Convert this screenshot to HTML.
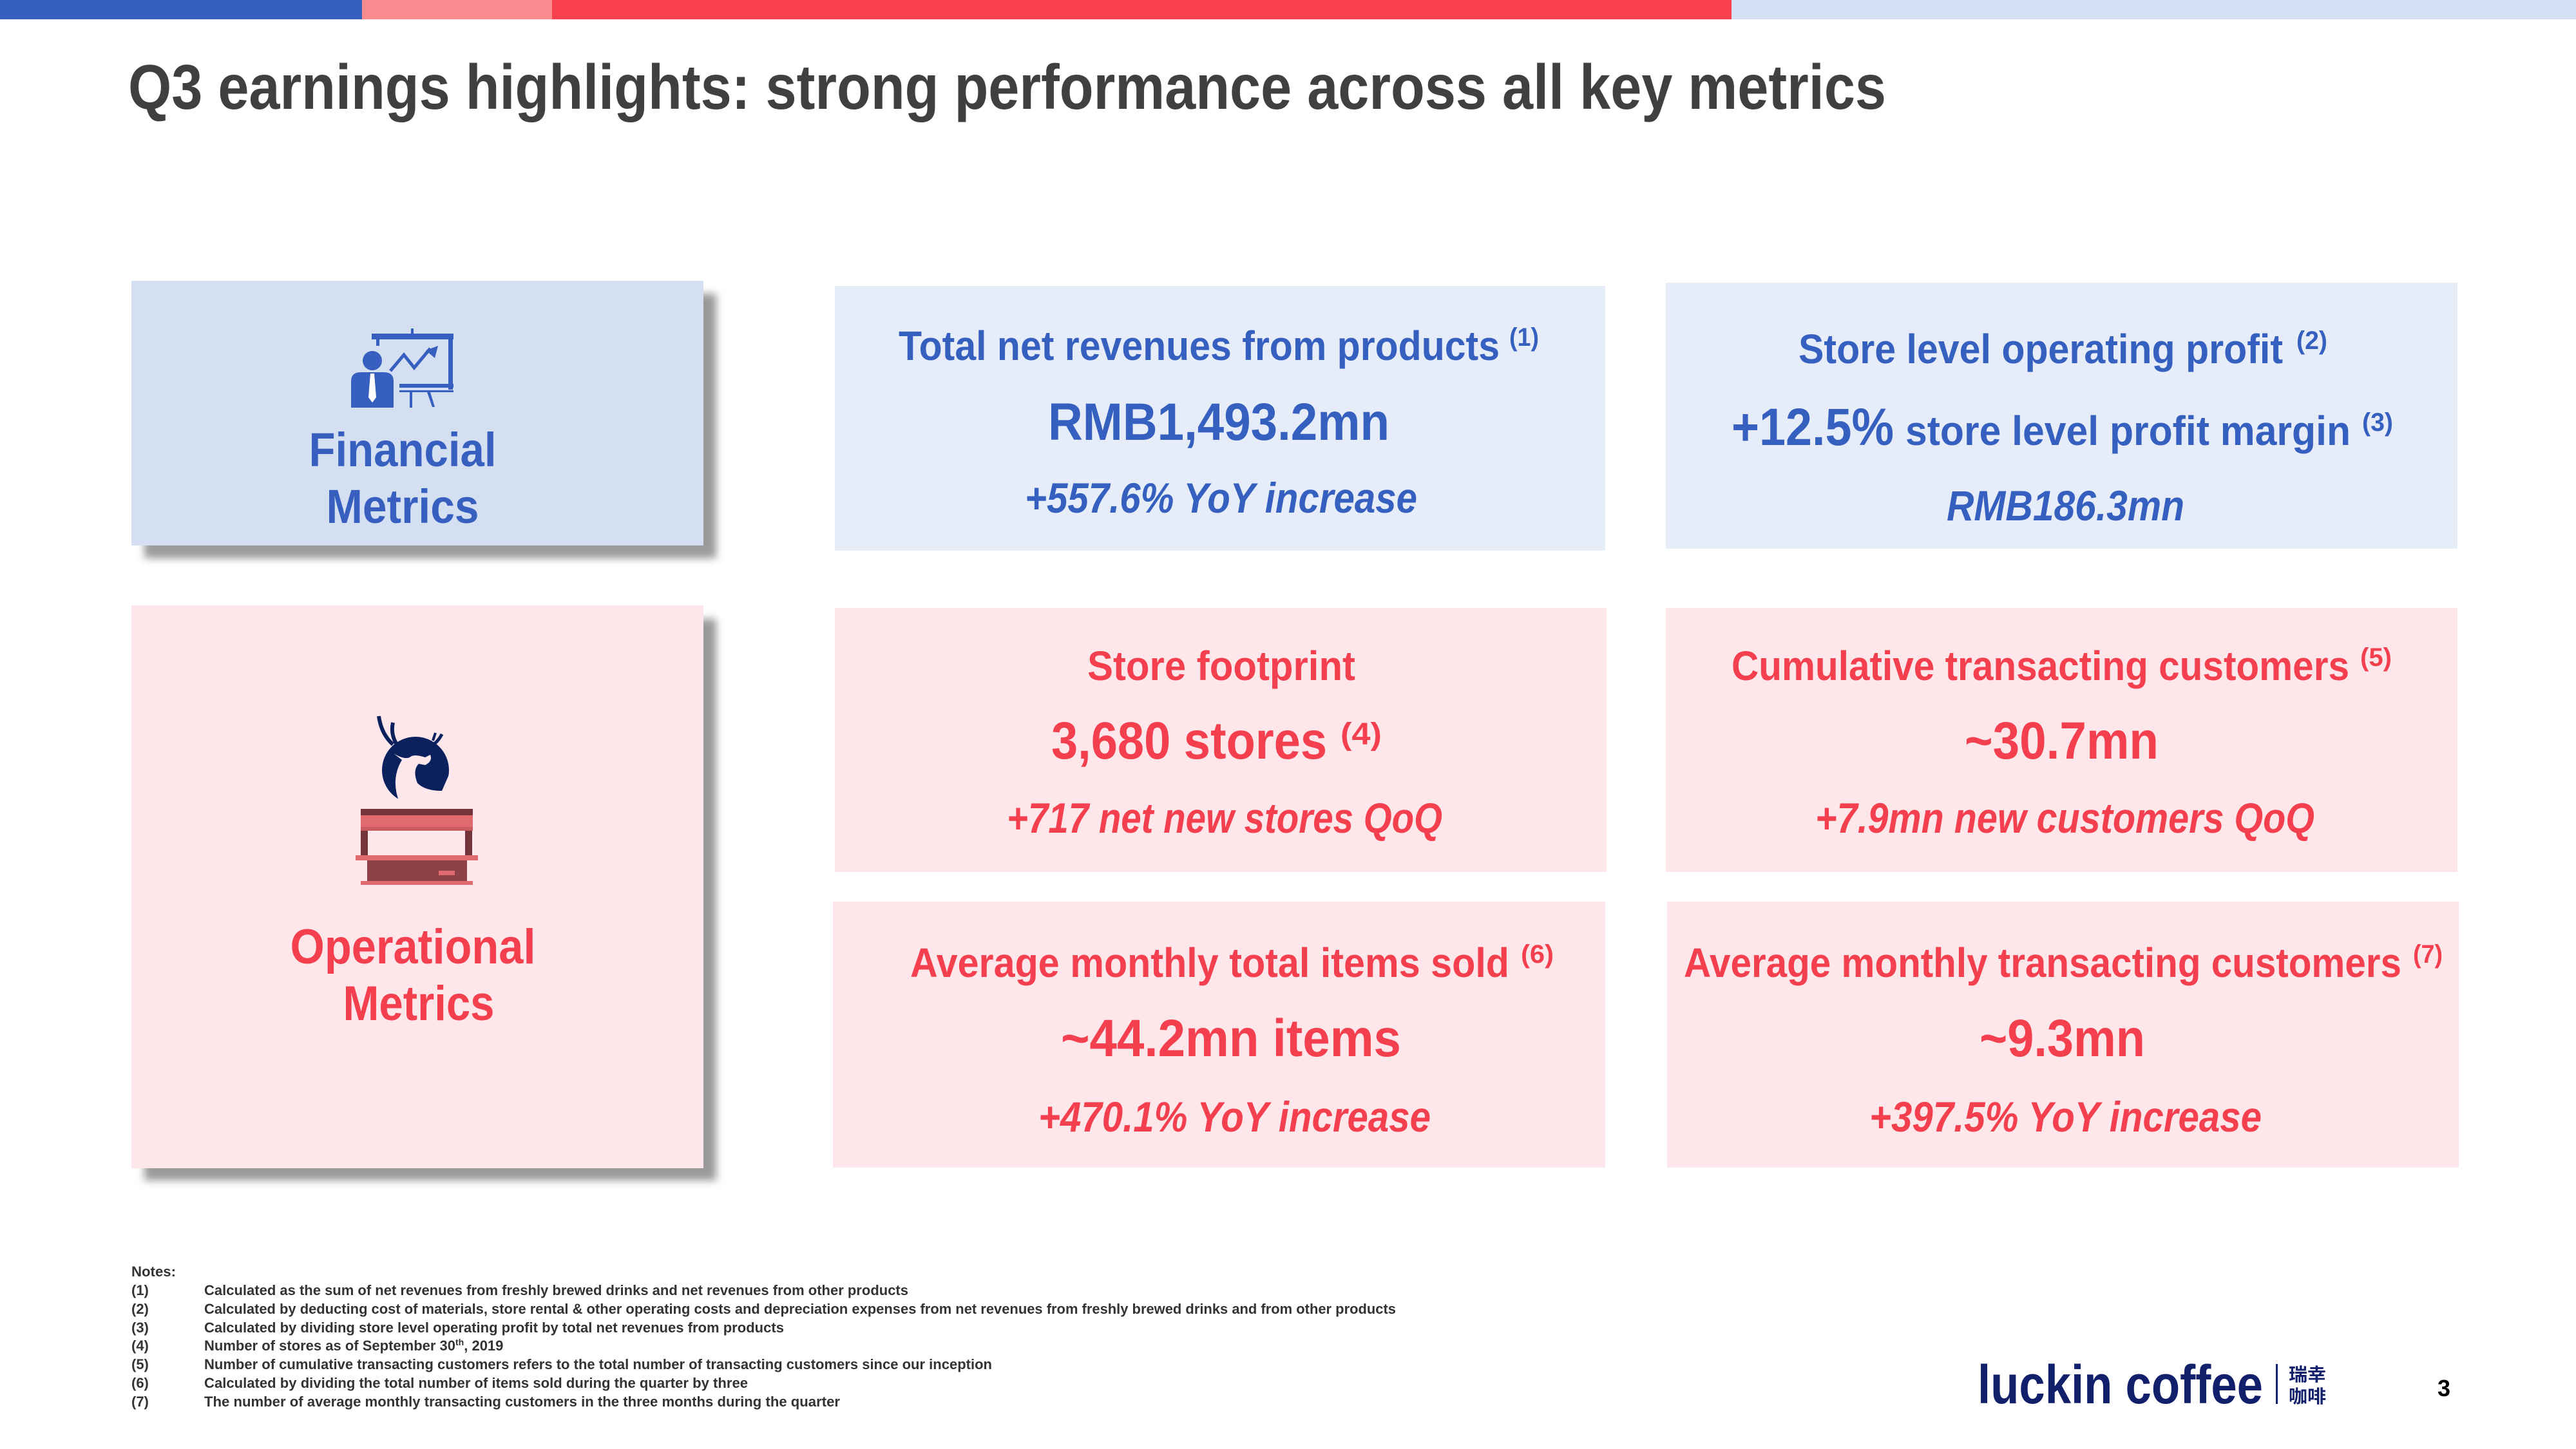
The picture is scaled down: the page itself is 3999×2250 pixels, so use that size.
<!DOCTYPE html>
<html><head><meta charset="utf-8"><style>
html,body{margin:0;padding:0;background:#fff;}
svg{display:block;}
text{font-family:"Liberation Sans Narrow","Liberation Sans",sans-serif;font-weight:bold;}
</style></head><body>
<svg width="3999" height="2250" viewBox="0 0 3999 2250" xmlns="http://www.w3.org/2000/svg">
<defs><filter id="blur" x="-10%" y="-10%" width="120%" height="120%"><feGaussianBlur stdDeviation="6"/></filter></defs>
<g>
<rect x="0" y="0" width="562" height="30" fill="#365fbf"/>
<rect x="562" y="0" width="295" height="30" fill="#fb8b8f"/>
<rect x="857" y="0" width="1831" height="30" fill="#f8404e"/>
<rect x="2688" y="0" width="1311" height="30" fill="#d6e0f4"/>
</g>
<text x="199" y="169" font-size="98" fill="#404040" textLength="2729" lengthAdjust="spacingAndGlyphs">Q3 earnings highlights: strong performance across all key metrics</text>

<!-- Financial box -->
<rect x="224" y="456" width="888" height="411" fill="#9a9a9a" filter="url(#blur)"/>
<rect x="204" y="436" width="888" height="411" fill="#d5dff2"/>
<g fill="#365fbf" stroke="#365fbf">
<rect x="577" y="518" width="127" height="9" stroke="none"/>
<rect x="638" y="510" width="4" height="10" stroke="none"/>
<rect x="584" y="525" width="5" height="12" stroke="none"/>
<rect x="696" y="525" width="7" height="80" stroke="none"/>
<rect x="620" y="596" width="84" height="6" stroke="none"/>
<rect x="620" y="606" width="84" height="3" stroke="none"/>
<rect x="636" y="609" width="4" height="24" stroke="none"/>
<polygon points="663,609 668,609 675,632 671,632" stroke="none"/>
<polyline points="606,576 627,551 643,571 668,541" fill="none" stroke-width="5"/>
<polygon points="680,537 661,544 675,556" stroke="none"/>
<circle cx="578" cy="560" r="15" stroke="none"/>
<path d="M545,633 L545,592 Q545,578 560,578 L596,578 Q611,578 611,592 L611,633 Z" stroke="none"/>
<polygon points="575,580 581,580 584,617 578,625 572,617" fill="#fff" stroke="none"/>
</g>
<text x="625" y="724" font-size="74" fill="#365fbf" text-anchor="middle" textLength="291" lengthAdjust="spacingAndGlyphs">Financial</text>
<text x="625" y="812" font-size="74" fill="#365fbf" text-anchor="middle" textLength="237" lengthAdjust="spacingAndGlyphs">Metrics</text>

<!-- Operational box -->
<rect x="224" y="961" width="888" height="872" fill="#9a9a9a" filter="url(#blur)"/>
<rect x="204" y="940" width="888" height="874" fill="#fde7ea"/>
<g>
<circle cx="645" cy="1196" r="52" fill="#0b215e"/>
<path d="M611,1170 Q628,1180 636,1176 Q642,1170 660,1176 L668,1172 Q672,1182 660,1188 L650,1186 Q640,1196 648,1216 Q660,1228 686,1228 L700,1196 L700,1260 L560,1260 L560,1240 Q600,1230 620,1246 Q606,1210 624,1180 Z" fill="#fde7ea"/>
<path d="M588,1112 Q592,1140 610,1156" fill="none" stroke="#0b215e" stroke-width="6"/>
<path d="M610,1122 Q606,1140 616,1156" fill="none" stroke="#0b215e" stroke-width="6"/>
<path d="M686,1140 Q680,1152 670,1158" fill="none" stroke="#0b215e" stroke-width="5"/>
<path d="M676,1138 L672,1150" fill="none" stroke="#0b215e" stroke-width="4"/>
</g>
<g>
<rect x="560" y="1256" width="174" height="10" fill="#74353a"/>
<rect x="560" y="1266" width="174" height="18" fill="#e06a6e"/>
<rect x="560" y="1284" width="174" height="6" fill="#c95a5f"/>
<rect x="560" y="1290" width="11" height="40" fill="#74353a"/>
<rect x="722" y="1290" width="11" height="40" fill="#74353a"/>
<rect x="552" y="1328" width="190" height="8" fill="#e06a6e"/>
<rect x="570" y="1336" width="155" height="34" fill="#8e4247"/>
<rect x="681" y="1352" width="25" height="7" fill="#e06a6e"/>
<rect x="560" y="1368" width="174" height="6" fill="#e06a6e"/>
</g>
<text x="641" y="1496" font-size="76" fill="#f43f4f" text-anchor="middle" textLength="381" lengthAdjust="spacingAndGlyphs">Operational</text>
<text x="650" y="1584" font-size="76" fill="#f43f4f" text-anchor="middle" textLength="235" lengthAdjust="spacingAndGlyphs">Metrics</text>

<!-- Cards -->
<rect x="1296" y="444" width="1196" height="411" fill="#e6ecf8"/>
<rect x="2586" y="439" width="1229" height="413" fill="#e6ecf8"/>
<rect x="1296" y="944" width="1198" height="410" fill="#fde7ea"/>
<rect x="2586" y="944" width="1229" height="410" fill="#fde7ea"/>
<rect x="1293" y="1400" width="1199" height="413" fill="#fde7ea"/>
<rect x="2588" y="1400" width="1229" height="413" fill="#fde7ea"/>

<g fill="#3660c0">
<text x="1395" y="559" font-size="64" textLength="933" lengthAdjust="spacingAndGlyphs">Total net revenues from products</text>
<text x="2343" y="537" font-size="40" textLength="46" lengthAdjust="spacingAndGlyphs">(1)</text>
<text x="1627" y="683" font-size="82" textLength="530" lengthAdjust="spacingAndGlyphs">RMB1,493.2mn</text>
<text x="1591" y="796" font-size="66" font-style="italic" textLength="609" lengthAdjust="spacingAndGlyphs">+557.6% YoY increase</text>

<text x="2792" y="564" font-size="64" textLength="752" lengthAdjust="spacingAndGlyphs">Store level operating profit</text>
<text x="3565" y="542" font-size="40" textLength="48" lengthAdjust="spacingAndGlyphs">(2)</text>
<text x="2688" y="691" font-size="82" textLength="252" lengthAdjust="spacingAndGlyphs">+12.5%</text>
<text x="2958" y="691" font-size="64" textLength="691" lengthAdjust="spacingAndGlyphs">store level  profit margin</text>
<text x="3667" y="669" font-size="40" textLength="48" lengthAdjust="spacingAndGlyphs">(3)</text>
<text x="3022" y="808" font-size="66" font-style="italic" textLength="369" lengthAdjust="spacingAndGlyphs">RMB186.3mn</text>
</g>

<g fill="#f43f4f">
<text x="1688" y="1056" font-size="64" textLength="416" lengthAdjust="spacingAndGlyphs">Store footprint</text>
<text x="1632" y="1178" font-size="82" textLength="428" lengthAdjust="spacingAndGlyphs">3,680 stores</text>
<text x="2081" y="1156" font-size="48" textLength="64" lengthAdjust="spacingAndGlyphs">(4)</text>
<text x="1563" y="1293" font-size="66" font-style="italic" textLength="676" lengthAdjust="spacingAndGlyphs">+717 net new stores QoQ</text>

<text x="2688" y="1056" font-size="64" textLength="959" lengthAdjust="spacingAndGlyphs">Cumulative transacting customers</text>
<text x="3664" y="1034" font-size="40" textLength="49" lengthAdjust="spacingAndGlyphs">(5)</text>
<text x="3050" y="1178" font-size="82" textLength="301" lengthAdjust="spacingAndGlyphs">~30.7mn</text>
<text x="2818" y="1293" font-size="66" font-style="italic" textLength="775" lengthAdjust="spacingAndGlyphs">+7.9mn new customers QoQ</text>

<text x="1413" y="1517" font-size="64" textLength="930" lengthAdjust="spacingAndGlyphs">Average monthly total items sold</text>
<text x="2361" y="1495" font-size="40" textLength="51" lengthAdjust="spacingAndGlyphs">(6)</text>
<text x="1647" y="1640" font-size="82" textLength="528" lengthAdjust="spacingAndGlyphs">~44.2mn items</text>
<text x="1612" y="1757" font-size="66" font-style="italic" textLength="609" lengthAdjust="spacingAndGlyphs">+470.1% YoY increase</text>

<text x="2614" y="1517" font-size="64" textLength="1114" lengthAdjust="spacingAndGlyphs">Average monthly transacting customers</text>
<text x="3746" y="1495" font-size="40" textLength="46" lengthAdjust="spacingAndGlyphs">(7)</text>
<text x="3073" y="1640" font-size="82" textLength="257" lengthAdjust="spacingAndGlyphs">~9.3mn</text>
<text x="2902" y="1757" font-size="66" font-style="italic" textLength="609" lengthAdjust="spacingAndGlyphs">+397.5% YoY increase</text>
</g>

<g fill="#333" font-size="22">
<text x="204" y="1982" textLength="69" lengthAdjust="spacingAndGlyphs">Notes:</text>
<text x="204" y="2011">(1)</text><text x="317" y="2011" textLength="1093" lengthAdjust="spacingAndGlyphs">Calculated as the sum of net revenues from freshly brewed drinks and net revenues from other products</text>
<text x="204" y="2040">(2)</text><text x="317" y="2040" textLength="1850" lengthAdjust="spacingAndGlyphs">Calculated by deducting cost of materials, store rental &amp; other operating costs and depreciation expenses from net revenues from freshly brewed drinks and from other products</text>
<text x="204" y="2069">(3)</text><text x="317" y="2069" textLength="900" lengthAdjust="spacingAndGlyphs">Calculated by dividing store level operating profit by total net revenues from products</text>
<text x="204" y="2097">(4)</text><text x="317" y="2097">Number of stores as of September 30<tspan font-size="14" dy="-8">th</tspan><tspan dy="8">, 2019</tspan></text>
<text x="204" y="2126">(5)</text><text x="317" y="2126" textLength="1223" lengthAdjust="spacingAndGlyphs">Number of cumulative transacting customers refers to the total number of transacting customers since our inception</text>
<text x="204" y="2155">(6)</text><text x="317" y="2155" textLength="844" lengthAdjust="spacingAndGlyphs">Calculated by dividing the total number of items sold during the quarter by three</text>
<text x="204" y="2184">(7)</text><text x="317" y="2184" textLength="987" lengthAdjust="spacingAndGlyphs">The number of average monthly transacting customers in the three months during the quarter</text>
</g>

<g>
<text x="3070" y="2179" font-size="84" fill="#121f6b" textLength="443" lengthAdjust="spacingAndGlyphs" style="font-family:'Liberation Sans','Liberation Sans Narrow',sans-serif">luckin coffee</text>
<rect x="3533" y="2118" width="3" height="62" fill="#121f6b"/>
<text x="3553" y="2144" font-size="28" fill="#121f6b" style="font-family:'Liberation Sans','Noto Sans CJK SC',sans-serif" textLength="58" lengthAdjust="spacingAndGlyphs">瑞幸</text>
<text x="3553" y="2178" font-size="28" fill="#121f6b" style="font-family:'Liberation Sans','Noto Sans CJK SC',sans-serif" textLength="58" lengthAdjust="spacingAndGlyphs">咖啡</text>
</g>
<text x="3784" y="2168" font-size="36" fill="#000">3</text>
</svg>
</body></html>
